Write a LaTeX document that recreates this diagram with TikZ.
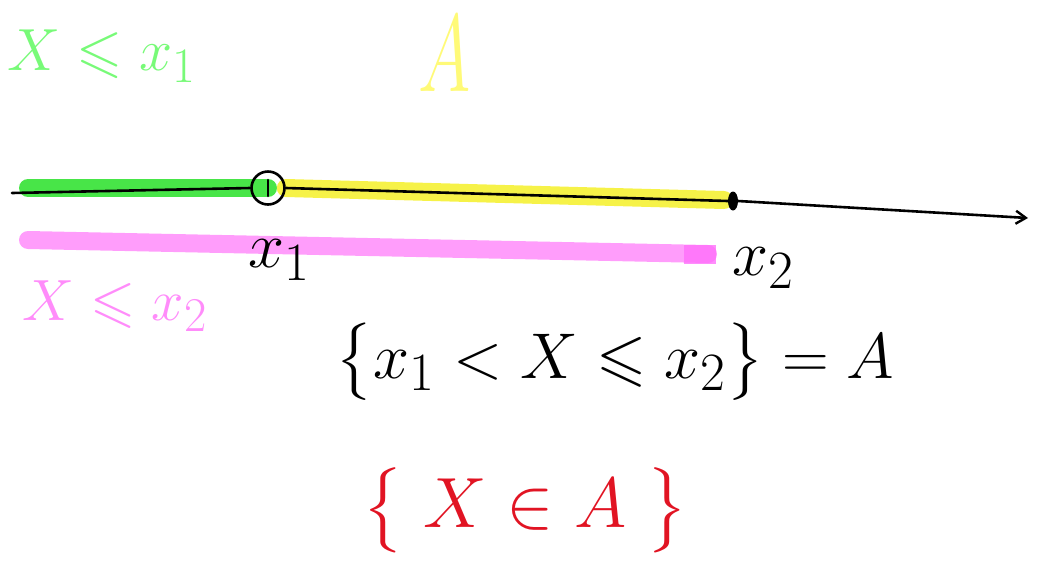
\documentclass[tikz,border=0pt]{standalone}
\usepackage{amsmath,amssymb}
\usepackage{xcolor}
\usetikzlibrary{arrows.meta,positioning,shapes.geometric,calc,backgrounds}
\definecolor{hlgreen}{RGB}{40,225,40}
\definecolor{txgreen}{RGB}{120,250,120}
\definecolor{hlyellow}{RGB}{245,240,40}
\definecolor{txyellow}{RGB}{255,250,120}
\definecolor{hlpink}{RGB}{255,140,250}
\definecolor{inkred}{RGB}{225,20,35}
\tikzset{
  hand/.style={inner sep=0pt, font=\Huge, scale=2.6},
  marker/.style={line width=18pt, line cap=round, opacity=0.85},
  ink/.style={line width=2.6pt, line cap=round},
  axis/.style={ink, -{Straight Barb[length=10pt, width=13pt, line width=2.4pt]}},
}

\begin{document}
\begin{tikzpicture}[x=1pt, y=-1pt]
\useasboundingbox (0,0) rectangle (1042,566);
% number line
\coordinate (start) at (12,193);
\coordinate (stop) at (1028,218);
\coordinate (gstart) at (28,188);
\coordinate (ystop) at (724,200);
\coordinate (pstart) at (28,240);
\coordinate (pstop) at (708,254);
\node[circle, draw, ink, minimum size=33pt, inner sep=0pt] (xa) at (268,188) {};
\node[ellipse, fill=black, minimum width=10pt, minimum height=19pt, inner sep=0pt] (xb) at (733,201) {};
% highlights
\begin{scope}[on background layer]
\draw[marker, hlgreen] (gstart) -- (xa.center);
\draw[marker, hlyellow] (xa.east) -- (ystop);
\draw[marker, hlpink] (pstart) -- (pstop);
\fill[hlpink!80!magenta, opacity=0.8] (684,245) rectangle (716,264);
\end{scope}
\draw[ink] (start) -- (xa.west);
\draw[ink] (xa.east) -- (xb.west);
\draw[axis] (xb.east) -- (stop);
\draw[ink] ($(xa.center)+(0,-8)$) -- ($(xa.center)+(0,8)$);
% labels
\node[hand] (lxa) at (280,260) {$x_1$};
\node[hand] (lxb) at (764,268) {$x_2$};
\node[hand, scale=0.92, text=txgreen] (below1) at (102,56) {$X \leqslant x_1$};
\node[hand, text=txyellow, xscale=1.1, yscale=1.7] (seta) at (445,54) {$A$};
\node[hand, scale=0.9, text=hlpink] (below2) at (115,306) {$X \leqslant x_2$};
\node[hand] (event) at (615,362) {$\bigl\{x_1 < X \leqslant x_2\bigr\} = A$};
\node[hand, scale=1.1, text=inkred] (inA) at (525,510) {$\bigl\{\;X \in A\;\bigr\}$};
\end{tikzpicture}
\end{document}
